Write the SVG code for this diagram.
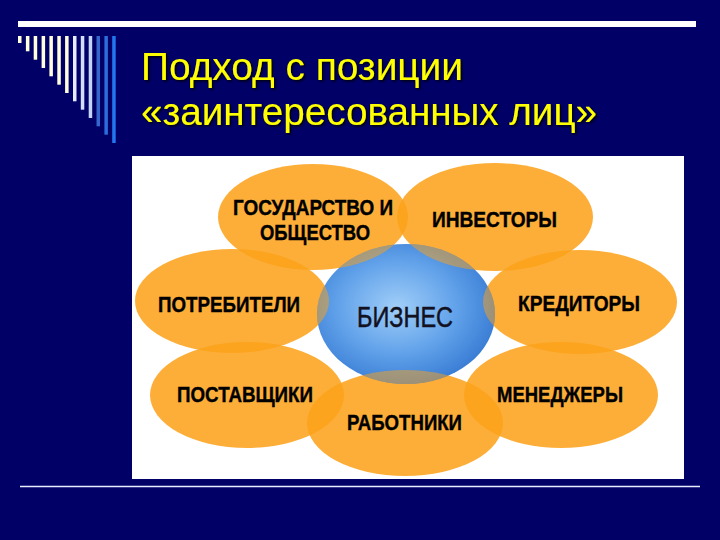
<svg xmlns="http://www.w3.org/2000/svg" width="720" height="540" viewBox="0 0 720 540">
  <style>
    .title { font-family: "Liberation Sans", Arial, sans-serif; font-size: 38px; fill: #FFFF00; filter: url(#shadow); }
    .lbl { font-family: "Liberation Sans", Arial, sans-serif; font-size: 22px; font-weight: bold; fill: #000000; stroke: #000000; stroke-width: 0.4; text-anchor: middle; }
    .biz { font-family: "Liberation Sans", Arial, sans-serif; font-size: 30px; fill: #111122; stroke: #111122; stroke-width: 0.5; text-anchor: middle; }
    .petal { fill: #FBA21A; opacity: 0.87; }
    .over { fill: #FBA21A; opacity: 0.5; }
    .stripe-y { fill: #FFFFDC; }
    .stripe-w { fill: #D4DEFA; }
  </style>
  <defs>
    <filter id="shadow" x="-5%" y="-20%" width="110%" height="140%">
      <feDropShadow dx="1.5" dy="1.5" stdDeviation="0.8" flood-color="#000000" flood-opacity="0.9"/>
    </filter>
    <radialGradient id="blueGrad" cx="0.45" cy="0.45" r="0.6">
      <stop offset="0" stop-color="#A0CEF8"/>
      <stop offset="0.55" stop-color="#62A2EA"/>
      <stop offset="1" stop-color="#3579D2"/>
    </radialGradient>
    <clipPath id="bizClip">
      <ellipse cx="406" cy="314" rx="89" ry="70"/>
    </clipPath>
  </defs>

  <!-- background -->
  <rect x="0" y="0" width="720" height="540" fill="#000066"/>

  <!-- decorations -->
  <rect x="18" y="21" width="678" height="6" fill="#FFFFFF"/>
  <g id="stripes">
    <rect class="stripe-y" x="18" y="36" width="3.5" height="7"/>
    <rect class="stripe-y" x="25.9" y="36" width="3.5" height="15.3"/>
    <rect class="stripe-y" x="33.7" y="36" width="3.5" height="23.7"/>
    <rect class="stripe-y" x="41.6" y="36" width="3.5" height="32"/>
    <rect class="stripe-y" x="49.4" y="36" width="3.5" height="40.3"/>
    <rect class="stripe-y" x="57.3" y="36" width="3.5" height="48.7"/>
    <rect class="stripe-y" x="65.1" y="36" width="3.5" height="57"/>
    <rect x="73" y="36" width="3.5" height="65.3" fill="#E6ECFF"/>
    <rect class="stripe-w" x="80.8" y="36" width="3.5" height="73.7"/>
    <rect x="88.7" y="36" width="3.5" height="82" fill="#C4D4F6"/>
    <rect x="96.5" y="36" width="3.5" height="90.3" fill="#3566CC"/>
    <rect x="104.4" y="36" width="3.5" height="98.7" fill="#2C6CDC"/>
    <rect x="112.2" y="36" width="3.5" height="107" fill="#2277EE"/>
  </g>

  <g id="title">
    <text class="title" x="141" y="80" textLength="322" lengthAdjust="spacingAndGlyphs">Подход с позиции</text>
    <text class="title" x="141" y="125" textLength="456" lengthAdjust="spacingAndGlyphs">«заинтересованных лиц»</text>
  </g>

  <!-- white panel -->
  <rect x="132" y="156" width="552" height="323" fill="#FFFFFF"/>
  <line x1="20" y1="486.5" x2="700" y2="486.5" stroke="#E8ECFF" stroke-width="1.5"/>

  <!-- nodes -->
  <g id="node-investors">
    <ellipse class="petal" cx="495" cy="217" rx="98" ry="54"/>
    <text class="lbl" x="494.5" y="227" textLength="125" lengthAdjust="spacingAndGlyphs">ИНВЕСТОРЫ</text>
  </g>
  <g id="node-state">
    <ellipse class="petal" cx="313" cy="217" rx="95" ry="53"/>
    <text class="lbl" x="313" y="215" textLength="160" lengthAdjust="spacingAndGlyphs">ГОСУДАРСТВО И</text>
    <text class="lbl" x="315" y="240" textLength="110" lengthAdjust="spacingAndGlyphs">ОБЩЕСТВО</text>
  </g>
  <g id="node-consumers">
    <ellipse class="petal" cx="232" cy="301" rx="97" ry="52"/>
    <text class="lbl" x="229" y="312" textLength="142" lengthAdjust="spacingAndGlyphs">ПОТРЕБИТЕЛИ</text>
  </g>
  <g id="node-creditors">
    <ellipse class="petal" cx="580" cy="302" rx="97" ry="52"/>
    <text class="lbl" x="579" y="311" textLength="122" lengthAdjust="spacingAndGlyphs">КРЕДИТОРЫ</text>
  </g>
  <g id="node-suppliers">
    <ellipse class="petal" cx="247" cy="395" rx="97" ry="53"/>
    <text class="lbl" x="245" y="402" textLength="136" lengthAdjust="spacingAndGlyphs">ПОСТАВЩИКИ</text>
  </g>
  <g id="node-managers">
    <ellipse class="petal" cx="561" cy="395" rx="97" ry="53"/>
    <text class="lbl" x="560" y="402" textLength="126" lengthAdjust="spacingAndGlyphs">МЕНЕДЖЕРЫ</text>
  </g>
  <g id="node-workers">
    <ellipse class="petal" cx="405" cy="423" rx="98" ry="53"/>
    <text class="lbl" x="404.5" y="430" textLength="115" lengthAdjust="spacingAndGlyphs">РАБОТНИКИ</text>
  </g>

  <g id="node-business">
    <ellipse cx="406" cy="314" rx="89" ry="70" fill="url(#blueGrad)"/>
    <g clip-path="url(#bizClip)">
      <ellipse class="over" cx="495" cy="217" rx="98" ry="54"/>
      <ellipse class="over" cx="313" cy="217" rx="95" ry="53"/>
      <ellipse class="over" cx="232" cy="301" rx="97" ry="52"/>
      <ellipse class="over" cx="580" cy="302" rx="97" ry="52"/>
      <ellipse class="over" cx="247" cy="395" rx="97" ry="53"/>
      <ellipse class="over" cx="561" cy="395" rx="97" ry="53"/>
      <ellipse class="over" cx="405" cy="423" rx="98" ry="53"/>
    </g>
    <text class="biz" x="405" y="327" textLength="96" lengthAdjust="spacingAndGlyphs">БИЗНЕС</text>
  </g>

  <g id="connectors"/>
</svg>
